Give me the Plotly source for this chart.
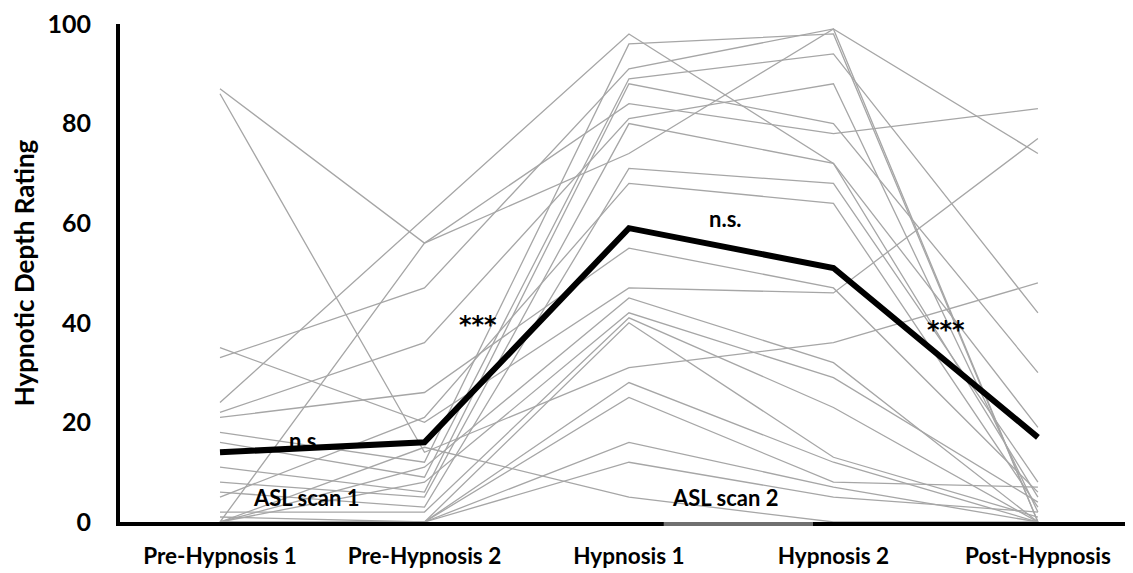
import plotly.graph_objects as go

categories = ["Pre-Hypnosis 1", "Pre-Hypnosis 2", "Hypnosis 1", "Hypnosis 2", "Post-Hypnosis"]

# individual subject ratings (approximate)
s01 = [87, 56, 84, 78, 83]
s02 = [86, 14, 31, 36, 48]
s03 = [35, 20, 47, 46, 77]
s04 = [33, 47, 91, 99, 0]
s05 = [24, 61, 98, 72, 5]
s06 = [22, 36, 81, 88, 2]
s07 = [0, 56, 74, 99, 74]
s08 = [18, 12, 96, 98, 0]
s09 = [16, 9, 89, 94, 42]
s10 = [11, 6, 88, 80, 30]
s11 = [8, 5, 80, 72, 19]
s12 = [6, 3, 71, 68, 8]
s13 = [5, 21, 68, 64, 3]
s14 = [21, 26, 55, 47, 6]
s15 = [0, 11, 45, 32, 0]
s16 = [0, 8, 42, 29, 4]
s17 = [2, 2, 41, 23, 0]
s18 = [0, 0, 40, 13, 1]
s19 = [0, 0, 28, 12, 0]
s20 = [1, 0, 25, 8, 7]
s21 = [0, 0, 16, 7, 0]
s22 = [0, 0, 12, 5, 2]
s23 = [0, 15, 5, 0, 0]
subjects = [s01, s02, s03, s04, s05, s06, s07, s08, s09, s10, s11, s12,
            s13, s14, s15, s16, s17, s18, s19, s20, s21, s22, s23]

mean_rating = [14, 16, 59, 51, 17]

sig_labels = ["n.s.", "***", "n.s.", "***"]
scan_labels = ["ASL scan 1", "ASL scan 2"]
y_ticks = [0, 20, 40, 60, 80, 100]

FONT = "Lato"
fig = go.Figure()
xs = list(range(len(categories)))
for s in subjects:
    fig.add_trace(go.Scatter(x=xs, y=s, mode="lines",
                             line=dict(color="#a6a6a6", width=1.3),
                             hoverinfo="skip", showlegend=False))
fig.add_trace(go.Scatter(x=xs, y=mean_rating, mode="lines",
                         line=dict(color="black", width=6),
                         showlegend=False))

# significance annotations
sig_pos = [(0.42, 16.3), (1.26, 39.5), (2.47, 61.0), (3.55, 38.5)]
for t, (x, y) in zip(sig_labels, sig_pos):
    if t.startswith("*"):
        f = dict(family="DejaVu Sans", size=24, color="black")
    else:
        f = dict(family=FONT, size=22, color="black")
    fig.add_annotation(x=x, y=y, text=f"<b>{t}</b>", showarrow=False, font=f)
scan_pos = [(0.42, 5), (2.47, 5)]
for t, (x, y) in zip(scan_labels, scan_pos):
    fig.add_annotation(x=x, y=y, text=f"<b>{t}</b>", showarrow=False,
                       font=dict(family=FONT, size=22, color="black"))

# ASL scan 2 gray bar on the axis line
fig.add_shape(type="line", x0=2.17, x1=2.9, xref="x", yref="paper",
              y0=-0.004, y1=-0.004,
              line=dict(color="#707070", width=4), layer="above")

fig.update_layout(
    width=1125, height=565,
    margin=dict(l=112, r=0, t=16, b=51),
    plot_bgcolor="white", paper_bgcolor="white",
    font=dict(family=FONT, size=18, color="black"),
)
fig.update_xaxes(
    tickmode="array", tickvals=xs,
    ticktext=[f"<b>{c}</b>" for c in categories],
    range=[-0.489, 4.465],
    showline=True, linecolor="black", linewidth=4,
    showgrid=False, zeroline=False, ticks="",
    tickfont=dict(family=FONT, size=22.5),
    ticklabelstandoff=11,
    ticklabeloverflow="allow",
)
fig.update_yaxes(
    range=[0, 100], tickvals=y_ticks,
    ticktext=[f"<b>{v}</b>" for v in y_ticks],
    showline=True, linecolor="black", linewidth=4,
    showgrid=False, zeroline=False, ticks="",
    tickfont=dict(family=FONT, size=25),
    ticklabelstandoff=20,
    ticklabeloverflow="allow",
    title=dict(text="<b>Hypnotic Depth Rating</b>", font=dict(family=FONT, size=26), standoff=8),
)

fig.write_html("out.html")
